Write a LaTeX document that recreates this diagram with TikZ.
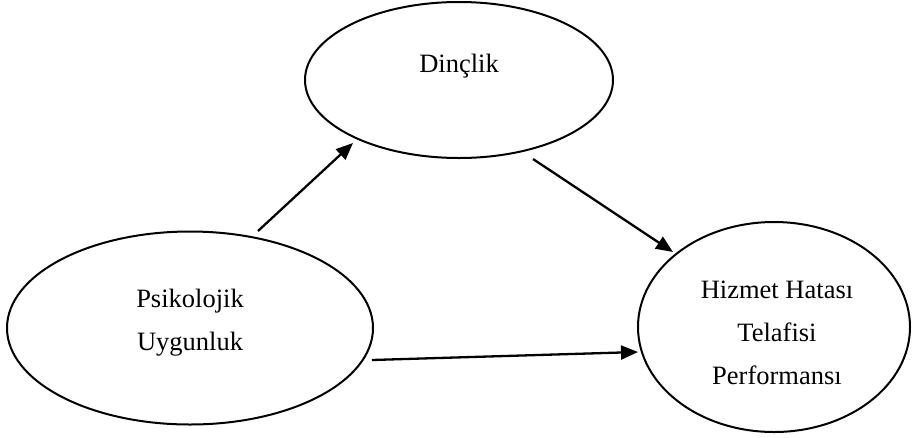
\documentclass[tikz,border=0pt]{standalone}
\usepackage{fontspec}
\setmainfont{Liberation Serif}
\usetikzlibrary{shapes.geometric,arrows.meta}
\begin{document}
\begin{tikzpicture}[x=1pt,y=-1pt,
  ell/.style={draw, ellipse, line width=2pt, inner sep=0pt},
  lbl/.style={font=\fontsize{26.5}{43}\selectfont, align=center, inner sep=0pt, anchor=base},
  conn/.style={line width=2.3pt, -{Triangle[length=17pt,width=14pt]}}]
\useasboundingbox (0,0) rectangle (912,437);
% ellipses
\node[ell, minimum width=308pt, minimum height=156pt] (din) at (459,80) {};
\node[ell, minimum width=366pt, minimum height=193pt] (psi) at (190,328) {};
\node[ell, minimum width=272pt, minimum height=210pt] (hiz) at (774,327) {};
% labels (base = baseline of the last line)
\node[lbl] (dint) at (459,72) {Dinçlik};
\node[lbl] (psit) at (190,350) {Psikolojik\\Uygunluk};
\node[lbl] (hizt) at (777,384) {Hizmet Hatası\\Telafisi\\Performansı};
% connector ends
\coordinate (a1s) at (258,231);
\coordinate (a1e) at (353,143);
\coordinate (a2s) at (533,159);
\coordinate (a2e) at (673,252);
\coordinate (a3s) at (372,360);
\coordinate (a3e) at (638,352);
\draw[conn] (a1s) -- (a1e);
\draw[conn] (a2s) -- (a2e);
\draw[conn] (a3s) -- (a3e);
\end{tikzpicture}
\end{document}
